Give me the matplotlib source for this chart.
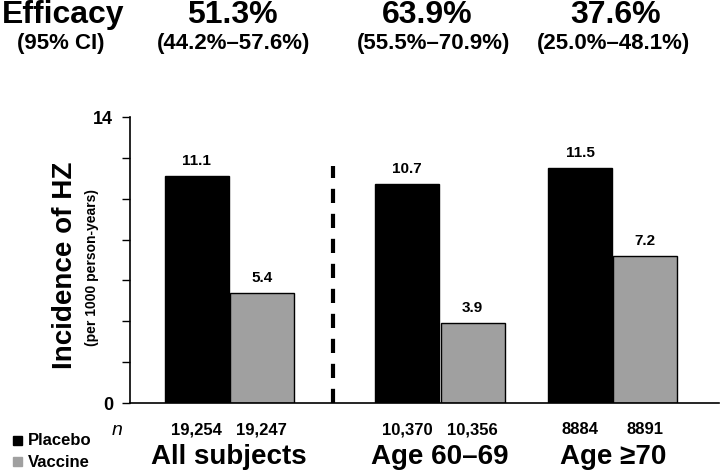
import matplotlib
matplotlib.use("Agg")
import matplotlib.pyplot as plt
from matplotlib.patches import Rectangle

groups = ["All subjects", "Age 60\u201369", "Age \u226570"]
placebo = [11.1, 10.7, 11.5]
vaccine = [5.4, 3.9, 7.2]
n_placebo = ["19,254", "10,370", "8884"]
n_vaccine = ["19,247", "10,356", "8891"]
efficacy = ["51.3%", "63.9%", "37.6%"]
ci = ["(44.2%\u201357.6%)", "(55.5%\u201370.9%)", "(25.0%\u201348.1%)"]

plt.rcParams['font.family'] = ['Liberation Sans', 'DejaVu Sans']
plt.rcParams['font.weight'] = 'bold'

W, H = 720, 473
fig = plt.figure(figsize=(7.2, 4.73), dpi=100)
# axes box in pixels: x 130..720, y 117..403
ax = fig.add_axes([130 / W, (H - 403) / H, (719 - 130) / W, (403 - 117) / H])

centers = [1.55, 4.84, 7.54]
off = 0.51
bw = 1.0
for i, c in enumerate(centers):
    ax.bar(c - off, placebo[i], bw, color="black", edgecolor="black", linewidth=1)
    ax.bar(c + off, vaccine[i], bw, color="#a0a0a0", edgecolor="black", linewidth=1)
    ax.text(c - off, placebo[i] + 0.4, f"{placebo[i]}", ha="center", va="bottom", fontsize=11)
    ax.text(c + off, vaccine[i] + 0.4, f"{vaccine[i]}", ha="center", va="bottom", fontsize=11)

# dashed divider
ax.plot([3.17, 3.17], [0, 11.6], color="black", lw=3, ls=(0, (3.4, 2.6)))

ax.set_xlim(0, 9.2)
ax.set_ylim(0, 14)
ax.set_yticks([0, 14])
ax.set_yticks(range(2, 14, 2), minor=True)
ax.tick_params(axis="y", which="both", direction="out", length=6, labelsize=13, width=1, pad=6)
ax.set_xticks([])
for s in ["top", "right"]:
    ax.spines[s].set_visible(False)
ax.spines["left"].set_linewidth(1.2)
ax.spines["bottom"].set_linewidth(1.2)

fig.text(65 / W, 1 - 265 / H, "Incidence of HZ", rotation=90, ha="center", va="center", fontsize=20)
fig.text(92 / W, 1 - 268 / H, "(per 1000 person-years)", rotation=90, ha="center", va="center", fontsize=10)

# top efficacy header
fig.text(2 / W, 1 - 15 / H, "Efficacy", ha="left", va="center", fontsize=23)
fig.text(61 / W, 1 - 44 / H, "(95% CI)", ha="center", va="center", fontsize=16)
eff_x = [232, 427, 616]
ci_x = [234, 434, 614]
for i in range(3):
    fig.text(eff_x[i] / W, 1 - 15 / H, efficacy[i], ha="center", va="center", fontsize=23)
    fig.text(ci_x[i] / W, 1 - 44 / H, ci[i], ha="center", va="center", fontsize=16)

# n row and group labels
fig.text(117 / W, 1 - 430 / H, "n", ha="center", va="center", fontsize=14, style="italic", weight="normal")
for i, c in enumerate(centers):
    ax.text(c - off, -1.32, n_placebo[i], ha="center", va="center", fontsize=12)
    ax.text(c + off, -1.32, n_vaccine[i], ha="center", va="center", fontsize=12)
    ax.text(c, -2.63, groups[i], ha="center", va="center", fontsize=20)

# legend
fig.patches.append(Rectangle((13 / W, 1 - 445 / H), 9 / W, 9 / H, transform=fig.transFigure,
                             color="black", figure=fig))
fig.patches.append(Rectangle((13 / W, 1 - 466 / H), 9 / W, 9 / H, transform=fig.transFigure,
                             color="#a0a0a0", figure=fig))
fig.text(28 / W, 1 - 440 / H, "Placebo", ha="left", va="center", fontsize=12)
fig.text(28 / W, 1 - 462 / H, "Vaccine", ha="left", va="center", fontsize=12)

fig.savefig("out.png", dpi=100)
